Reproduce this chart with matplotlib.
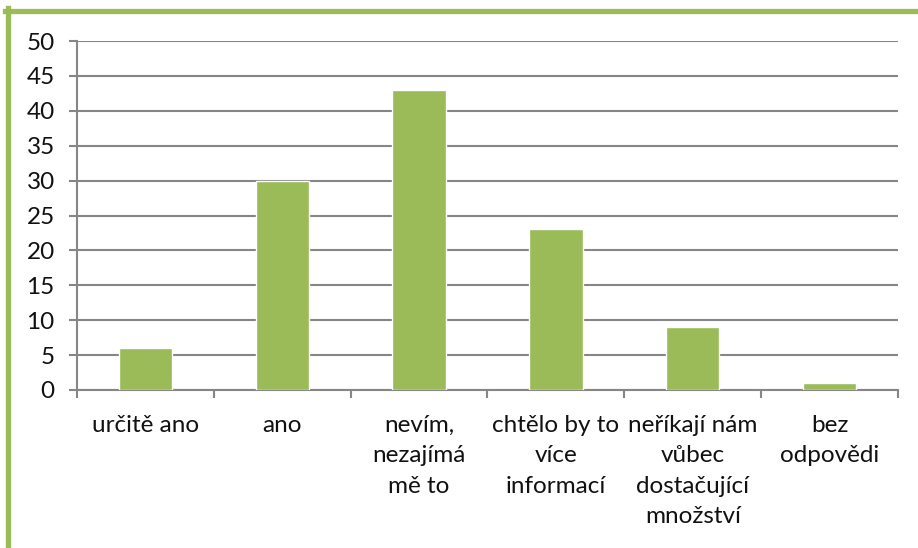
import numpy as np
import matplotlib.pyplot as plt
from matplotlib.lines import Line2D

categories = ["určitě ano", "ano", "nevím,\nnezajímá\nmě to", "chtělo by to\nvíce\ninformací",
              "neříkají nám\nvůbec\ndostačující\nmnožství", "bez\nodpovědi"]
values = [6, 30, 43, 23, 9, 1]
yticks = [0, 5, 10, 15, 20, 25, 30, 35, 40, 45, 50]

green = "#9BBB59"
grid_gray = "#868686"

plt.rcParams["font.family"] = ["Lato", "DejaVu Sans"]

W, H = 918, 548
fig = plt.figure(figsize=(W / 100, H / 100), dpi=100)
ax = fig.add_axes([77 / W, 1 - 390 / H, (898 - 77) / W, (390 - 41) / H])

x = np.arange(len(categories))
ax.bar(x, values, width=0.39, color=green, edgecolor="white", linewidth=1.0, zorder=3)

ax.set_xlim(-0.5, len(categories) - 0.5)
ax.set_ylim(0, 50)
ax.set_yticks(yticks)
ax.yaxis.grid(True, color=grid_gray, linewidth=1.5, zorder=0)
ax.set_axisbelow(True)

for s in ["top", "right"]:
    ax.spines[s].set_visible(False)
for s in ["left", "bottom"]:
    ax.spines[s].set_color(grid_gray)
    ax.spines[s].set_linewidth(1.5)

ax.tick_params(axis="y", length=6, width=1.5, color=grid_gray, pad=10, labelsize=17.5,
               labelcolor="#111111")
ax.set_xticks(x)
ax.set_xticklabels(categories, fontsize=17.5, linespacing=1.55, va="top", color="#111111")
ax.tick_params(axis="x", which="major", length=0, pad=18)
ax.set_xticks(np.arange(len(categories) + 1) - 0.5, minor=True)
ax.tick_params(axis="x", which="minor", length=6, width=1.5, color=grid_gray)

# green frame (top and left edges visible)
fig.add_artist(Line2D([5 / W, 1], [1 - 10.5 / H, 1 - 10.5 / H], color=green, linewidth=3.8,
                      transform=fig.transFigure))
fig.add_artist(Line2D([7.5 / W, 7.5 / W], [1 - 8 / H, 0], color=green, linewidth=3.8,
                      transform=fig.transFigure))

fig.savefig("out.png", dpi=100)
